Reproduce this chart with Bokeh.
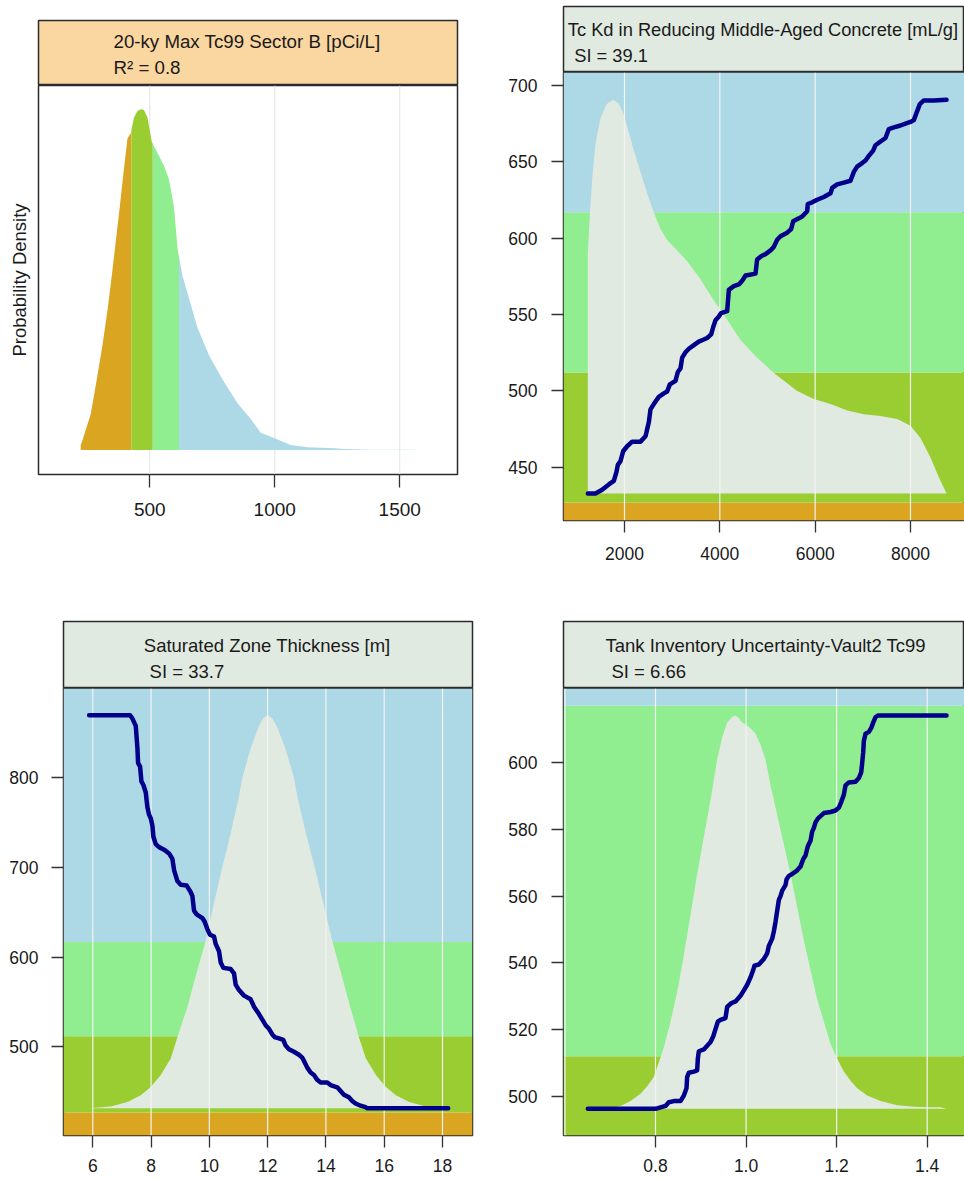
import numpy as np
from bokeh.plotting import figure
from bokeh.models import Range1d, FixedTicker
from bokeh.layouts import row, column
from bokeh.core.properties import value
from bokeh.embed import file_html
from bokeh.resources import INLINE

# ---------------------------------------------------------------- data
band_breaks = [427, 512, 617]   # output classes of 20-ky max Tc99 [pCi/L]
band_colors = ["#DAA520", "#9ACD32", "#90EE90", "#ADD8E6"]

# Panel 1 : density of the output
p1_title = ["20-ky Max Tc99 Sector B [pCi/L]", "R\u00b2 = 0.8"]
p1_ylabel = "Probability Density"
p1_x = [224, 228, 264, 288, 311, 331, 348, 364, 380, 395, 411, 424, 437, 451, 464,
        477, 491, 508, 557, 577, 597, 611, 631, 651, 691, 737, 791, 851, 904, 944,
        997, 1064, 1131, 1237, 1277, 1371, 1564]
p1_density = [0.015, 0.022, 0.106, 0.207, 0.308, 0.41, 0.511, 0.612, 0.713, 0.814,
              0.915, 0.930, 0.976, 0.995, 1.0, 0.998, 0.976, 0.905, 0.834, 0.794,
              0.713, 0.592, 0.511, 0.46, 0.359, 0.278, 0.207, 0.137, 0.091, 0.051,
              0.035, 0.015, 0.008, 0.005, 0.003, 0.001, 0.001]
p1_xticks = [500, 1000, 1500]
p1_xlabels = ["500", "1000", "1500"]

# Panel 2 : Tc Kd in reducing middle-aged concrete
p2_title = ["Tc Kd in Reducing Middle-Aged Concrete [mL/g]", "SI = 39.1"]
p2_dens_x = [1231, 1273, 1322, 1392, 1496, 1622, 1762, 1881, 1986, 2091, 2196, 2336,
             2476, 2615, 2755, 2895, 3105, 3315, 3594, 3874, 4084, 4434, 4783, 5133,
             5623, 5972, 6322, 6672, 7021, 7371, 7721, 8000, 8210, 8420, 8595, 8756]
p2_dens = [0.608, 0.708, 0.799, 0.889, 0.953, 0.989, 1.0, 0.991, 0.962, 0.917, 0.871,
           0.817, 0.762, 0.714, 0.672, 0.644, 0.617, 0.590, 0.544, 0.490, 0.454, 0.390,
           0.345, 0.306, 0.260, 0.240, 0.227, 0.211, 0.201, 0.197, 0.189, 0.172, 0.141,
           0.091, 0.041, 0.0]
p2_cx = [1231, 1392, 1531, 1671, 1776, 1832, 1860, 1916, 1972, 2056, 2161, 2336, 2441,
         2476, 2511, 2545, 2615, 2720, 2825, 2895, 2951, 3070, 3119, 3175, 3210, 3280,
         3350, 3455, 3559, 3650, 3734, 3818, 3860, 3909, 3979, 4028, 4154, 4189, 4294,
         4399, 4469, 4539, 4629, 4748, 4783, 4874, 4958, 5063, 5133, 5203, 5273, 5413,
         5497, 5539, 5658, 5728, 5832, 5846, 5937, 6042, 6182, 6322, 6357, 6462, 6602,
         6741, 6811, 6881, 6986, 7056, 7126, 7217, 7266, 7371, 7476, 7546, 7651, 7790,
         7895, 8000, 8070, 8126, 8196, 8280, 8490, 8756]
p2_cy = [432.9, 432.9, 435.3, 438.8, 441.1, 447.0, 451.6, 454.0, 460.5, 463.8, 466.8,
         466.8, 470.3, 475.0, 479.7, 487.9, 491.4, 496.1, 498.4, 499.6, 504.3, 506.6,
         512.4, 514.8, 521.8, 525.3, 527.6, 530.0, 532.3, 533.5, 534.7, 537.0, 541.7,
         546.3, 548.7, 551.0, 552.2, 566.2, 568.6, 569.7, 572.1, 575.6, 576.1, 576.8,
         586.1, 588.4, 589.6, 592.0, 594.3, 599.0, 601.3, 603.6, 606.0, 611.1, 613.0,
         614.2, 617.7, 622.4, 623.5, 625.2, 627.0, 629.4, 632.9, 635.2, 636.4, 637.6,
         643.4, 646.9, 649.2, 650.9, 653.9, 657.4, 660.9, 663.3, 665.6, 671.5, 672.6,
         673.8, 675.0, 676.1, 677.3, 682.0, 687.8, 690.2, 690.2, 690.6]
p2_xticks = [2000, 4000, 6000, 8000]
p2_xlabels = ["2000", "4000", "6000", "8000"]
p2_yticks = [450, 500, 550, 600, 650, 700]
p2_ylabels = ["450", "500", "550", "600", "650", "700"]

# Panel 3 : saturated zone thickness
p3_title = ["Saturated Zone Thickness [m]", "SI = 33.7"]
p3_dens_x = [5.874, 6.617, 7.189, 7.646, 7.989, 8.332, 8.674, 8.903, 9.246, 9.589,
             9.874, 10.160, 10.389, 10.732, 11.017, 11.131, 11.417, 11.703, 11.85,
             12.000, 12.15, 12.309, 12.606, 12.903, 13.017, 13.314, 13.669, 13.909,
             14.217, 14.492, 14.834, 15.132, 15.372, 15.715, 16.057, 16.400, 16.857,
             17.429, 18.195]
p3_dens = [0.0, 0.0047, 0.016, 0.033, 0.054, 0.085, 0.127, 0.181, 0.258, 0.352, 0.426,
           0.522, 0.597, 0.700, 0.794, 0.841, 0.916, 0.973, 0.993, 1.0, 0.993, 0.973,
           0.916, 0.841, 0.794, 0.700, 0.597, 0.522, 0.426, 0.352, 0.258, 0.181, 0.127,
           0.085, 0.054, 0.033, 0.016, 0.0047, 0.0]
p3_cx = [5.874, 7.280, 7.360, 7.474, 7.531, 7.554, 7.623, 7.669, 7.737, 7.817, 7.874,
         7.931, 7.989, 8.046, 8.080, 8.160, 8.274, 8.446, 8.617, 8.731, 8.789, 8.903,
         9.017, 9.223, 9.360, 9.417, 9.474, 9.566, 9.760, 9.840, 9.931, 10.023, 10.160,
         10.217, 10.332, 10.389, 10.480, 10.732, 10.846, 10.903, 11.017, 11.189, 11.417,
         11.532, 11.703, 11.817, 11.932, 12.046, 12.160, 12.240, 12.389, 12.537, 12.617,
         12.732, 12.903, 13.074, 13.189, 13.269, 13.360, 13.475, 13.589, 13.703, 13.817,
         14.046, 14.160, 14.389, 14.503, 14.618, 14.789, 14.903, 15.018, 15.189, 15.360,
         15.418, 18.195]
p3_cy = [869.5, 869.5, 865.8, 857.6, 832.9, 816.5, 812.3, 795.9, 791.8, 783.5, 767.1,
         758.8, 754.7, 746.5, 734.2, 725.9, 722.6, 719.8, 715.6, 709.5, 697.1, 684.8,
         680.7, 679.8, 672.4, 668.3, 651.9, 647.7, 643.6, 639.5, 631.3, 625.1, 623.0,
         614.8, 606.6, 594.2, 588.1, 586.8, 581.9, 569.5, 563.4, 557.2, 553.1, 544.9,
         536.6, 530.5, 524.3, 520.2, 514.0, 511.1, 509.5, 507.8, 501.6, 497.5, 494.7,
         491.4, 488.1, 483.1, 477.0, 471.6, 468.7, 463.4, 460.5, 460.5, 457.6, 455.1,
         451.0, 446.9, 444.0, 439.9, 437.0, 434.6, 432.9, 431.7, 431.7]
p3_xticks = [6, 8, 10, 12, 14, 16, 18]
p3_xlabels = ["6", "8", "10", "12", "14", "16", "18"]
p3_yticks = [500, 600, 700, 800]
p3_ylabels = ["500", "600", "700", "800"]

# Panel 4 : tank inventory uncertainty
p4_title = ["Tank Inventory Uncertainty-Vault2 Tc99", "SI = 6.66"]
p4_dens_x = [0.708, 0.7227, 0.7448, 0.7669, 0.7816, 0.7963, 0.8074, 0.8184, 0.8331,
             0.8479, 0.8626, 0.8773, 0.8920, 0.9067, 0.9215, 0.9362, 0.9472, 0.9583,
             0.9693, 0.9767, 0.9841, 0.9914, 0.9988, 1.0098, 1.0209, 1.0319, 1.0429,
             1.0540, 1.0650, 1.0761, 1.0871, 1.0982, 1.1129, 1.1276, 1.1423, 1.1571,
             1.1718, 1.1865, 1.2012, 1.2160, 1.2307, 1.2454, 1.2675, 1.2969, 1.3337,
             1.3706, 1.4074, 1.4295, 1.4427]
p4_dens = [0.0038, 0.0075, 0.0197, 0.0385, 0.0573, 0.0808, 0.1183, 0.1559, 0.2216,
           0.2967, 0.3906, 0.4939, 0.5972, 0.6911, 0.7850, 0.8883, 0.9446, 0.9822,
           0.9962, 1.0, 0.9934, 0.9822, 0.9775, 0.9681, 0.9540, 0.9258, 0.8883, 0.8225,
           0.7662, 0.7099, 0.6535, 0.5972, 0.5127, 0.4282, 0.3531, 0.2779, 0.2216,
           0.1653, 0.1277, 0.0948, 0.0714, 0.0526, 0.0338, 0.0197, 0.0094, 0.0056,
           0.0038, 0.0038, 0.0]
p4_cx = [0.6506, 0.8, 0.8110, 0.8221, 0.8294, 0.8405, 0.8552, 0.8626, 0.8685, 0.8699,
         0.8736, 0.8847, 0.8920, 0.8935, 0.8957, 0.9067, 0.9215, 0.9274, 0.9325, 0.9377,
         0.9436, 0.9546, 0.9583, 0.9671, 0.9767, 0.9877, 0.9951, 1.0025, 1.0098, 1.0157,
         1.0186, 1.0282, 1.0393, 1.0466, 1.0503, 1.0577, 1.0614, 1.0650, 1.0687, 1.0724,
         1.0761, 1.0798, 1.0871, 1.0893, 1.0945, 1.1018, 1.1129, 1.1202, 1.1261, 1.1313,
         1.1364, 1.1423, 1.1460, 1.1497, 1.1534, 1.1585, 1.1718, 1.1865, 1.1975, 1.2049,
         1.2101, 1.2160, 1.2196, 1.2270, 1.2417, 1.2491, 1.2542, 1.2564, 1.2587, 1.2601,
         1.2638, 1.2712, 1.2763, 1.2807, 1.2859, 1.2910, 1.4427]
p4_cy = [496.24, 496.24, 496.68, 497.12, 498.23, 498.56, 498.56, 500.22, 502.43, 505.75,
         507.08, 507.41, 507.74, 511.28, 513.50, 514.05, 516.26, 517.92, 520.13, 522.35,
         522.90, 523.45, 526.77, 527.88, 528.43, 530.09, 531.75, 533.41, 535.62, 537.83,
         539.16, 539.49, 541.15, 542.81, 545.02, 547.23, 549.45, 552.21, 555.53, 558.85,
         559.96, 561.62, 563.27, 564.93, 566.04, 566.59, 567.70, 568.81, 571.02, 572.12,
         574.89, 576.55, 579.31, 580.42, 582.08, 583.19, 584.85, 585.18, 585.62, 586.50,
         588.16, 590.38, 593.14, 594.03, 594.25, 595.35, 597.01, 599.78, 603.10, 606.42,
         608.63, 609.18, 610.29, 611.95, 613.61, 614.05, 614.05]
p4_grid = [0.6, 0.8, 1.0, 1.2, 1.4]
p4_xticks = [0.8, 1.0, 1.2, 1.4]
p4_xlabels = ["0.8", "1.0", "1.2", "1.4"]
p4_yticks = [500, 520, 540, 560, 580, 600]
p4_ylabels = ["500", "520", "540", "560", "580", "600"]

# ---------------------------------------------------------------- style
FONT = "Liberation Sans"
TXT = "#1a1a1a"
FRAME_C = "#2b2b2b"
NAVY = "#00008B"
DENS_C = "#E1EAE1"
PEACH = "#FAD6A0"
GRID_LIGHT = "#F3F3F3"
GRID_GRAY = "#E4E4E4"


def make_header(width, ml, mr, mt, fh, color, lines, tx, size, dx2, y1, y2):
    fw = width - ml - mr
    h = figure(width=width, height=mt + fh, x_range=Range1d(0, fw), y_range=Range1d(0, fh),
               output_backend="svg", toolbar_location=None,
               x_axis_location=None, y_axis_location=None,
               min_border_left=ml, min_border_right=mr, min_border_top=mt,
               min_border_bottom=0, background_fill_color=color,
               border_fill_color="white", outline_line_color=FRAME_C,
               outline_line_width=1.5)
    h.grid.visible = False
    common = dict(text_font=value(FONT), text_font_size=value(size), text_color=TXT,
                  text_baseline="middle", text_align="left")
    h.text(x=[tx], y=[y1], text=[lines[0]], **common)
    h.text(x=[tx + dx2], y=[y2], text=[lines[1]], **common)
    return h


def make_plot(width, height, ml, mr, mb, xr, yr):
    p = figure(width=width, height=height, x_range=Range1d(*xr), y_range=Range1d(*yr),
               output_backend="svg", toolbar_location=None,
               min_border_left=ml, min_border_right=mr, min_border_top=0,
               min_border_bottom=mb, background_fill_color="white",
               border_fill_color="white", outline_line_color=FRAME_C,
               outline_line_width=1.5)
    p.grid.visible = False
    return p


def style_axis(ax, ticks, labels, size, tick_out, standoff):
    ax.ticker = FixedTicker(ticks=list(ticks))
    ax.major_label_overrides = {t: l for t, l in zip(ticks, labels)}
    ax.axis_line_color = None
    ax.major_tick_out = tick_out
    ax.major_tick_in = 0
    ax.minor_tick_line_color = None
    ax.major_tick_line_color = "#333333"
    ax.major_tick_line_width = 1.3
    ax.major_label_text_font = FONT
    ax.major_label_text_font_size = size
    ax.major_label_text_color = TXT
    ax.major_label_standoff = standoff


def draw_sensitivity(p, xr, yr, dens_x, dens_d, cx, cy, grid_ticks):
    x0, x1 = xr
    y0, y1 = yr
    edges = [y0] + band_breaks + [y1]
    bot, top, cols = [], [], []
    for i, col in enumerate(band_colors):
        lo, hi = max(edges[i], y0), min(edges[i + 1], y1)
        if hi > lo:
            bot.append(lo)
            top.append(hi)
            cols.append(col)
    p.quad(left=x0, right=x1, bottom=bot, top=top, fill_color=cols, line_color=None)
    cyv = np.asarray(cy, dtype=float)
    base, peak = cyv.min(), cyv.max()
    dd = np.asarray(dens_d, dtype=float)
    p.varea(x=dens_x, y1=np.full(len(dens_x), base), y2=base + dd * (peak - base),
            fill_color=DENS_C)
    n = len(grid_ticks)
    p.segment(x0=grid_ticks, y0=[y0] * n, x1=grid_ticks, y1=[y1] * n,
              line_color=GRID_LIGHT, line_width=1.2)
    p.line(cx, cy, line_color=NAVY, line_width=4.5, line_join="round", line_cap="round")


# ---------------------------------------------------------------- panel 1
P1X, P1Y = (55, 1731), (-0.0719, 1.0699)
h1 = make_header(500, 38, 43, 20, 65, PEACH, p1_title, 75, "18.7px", 0, 44, 18)
p1 = make_plot(500, 495, 38, 43, 106, P1X, P1Y)
n1 = len(p1_xticks)
p1.segment(x0=p1_xticks, y0=[P1Y[0]] * n1, x1=p1_xticks, y1=[P1Y[1]] * n1,
           line_color=GRID_GRAY, line_width=1)
dx = np.asarray(p1_x, dtype=float)
dy = np.asarray(p1_density, dtype=float)
edges = [dx[0]] + band_breaks + [dx[-1]]
for i, col in enumerate(band_colors):
    lo, hi = edges[i], edges[i + 1]
    inner = dx[(dx > lo) & (dx < hi)]
    xs = np.concatenate([[lo], inner, [hi]])
    ys = np.interp(xs, dx, dy)
    p1.varea(x=xs, y1=np.zeros(len(xs)), y2=ys, fill_color=col)
style_axis(p1.xaxis[0], p1_xticks, p1_xlabels, "19px", 13, 15)
ya = p1.yaxis[0]
ya.ticker = FixedTicker(ticks=[])
ya.axis_line_color = None
ya.major_tick_out = 0
ya.major_tick_in = 0
ya.minor_tick_line_color = None
ya.major_label_standoff = 0
ya.axis_label = p1_ylabel
ya.axis_label_text_font = FONT
ya.axis_label_text_font_size = "18.5px"
ya.axis_label_text_font_style = "normal"
ya.axis_label_text_color = TXT
ya.axis_label_standoff = 9

# ---------------------------------------------------------------- panel 2
P2X, P2Y = (720.3, 9133.3), (415.17, 708.5)
h2 = make_header(464, 63, 0, 6, 66, DENS_C, p2_title, 4.3, "18.3px", 6.4, 43, 17)
p2 = make_plot(464, 508, 63, 0, 60, P2X, P2Y)
draw_sensitivity(p2, P2X, P2Y, p2_dens_x, p2_dens, p2_cx, p2_cy, p2_xticks)
style_axis(p2.xaxis[0], p2_xticks, p2_xlabels, "17.5px", 12, 14)
style_axis(p2.yaxis[0], p2_yticks, p2_ylabels, "17.5px", 12, 14)

# ---------------------------------------------------------------- panel 3
P3X, P3Y = (4.9946, 19.03), (401.4, 899.3)
h3 = make_header(500, 63, 28, 41, 67, DENS_C, p3_title, 80.3, "18.5px", 5.8, 43, 17.5)
p3 = make_plot(500, 491, 63, 28, 44, P3X, P3Y)
draw_sensitivity(p3, P3X, P3Y, p3_dens_x, p3_dens, p3_cx, p3_cy, p3_xticks)
style_axis(p3.xaxis[0], p3_xticks, p3_xlabels, "17.5px", 12, 11)
style_axis(p3.yaxis[0], p3_yticks, p3_ylabels, "17.5px", 12, 13)

# ---------------------------------------------------------------- panel 4
P4X, P4Y = (0.59683, 1.4824), (488.26, 622.17)
h4 = make_header(464, 63, 0, 41, 67, DENS_C, p4_title, 42, "18.5px", 6, 43, 17.5)
p4 = make_plot(464, 491, 63, 0, 44, P4X, P4Y)
draw_sensitivity(p4, P4X, P4Y, p4_dens_x, p4_dens, p4_cx, p4_cy, p4_grid)
style_axis(p4.xaxis[0], p4_xticks, p4_xlabels, "17.5px", 12, 11)
style_axis(p4.yaxis[0], p4_yticks, p4_ylabels, "17.5px", 12, 14)

layout = column(row(column(h1, p1), column(h2, p2)),
                row(column(h3, p3), column(h4, p4)))

with open("out.html", "w") as f:
    f.write(file_html(layout, INLINE))
